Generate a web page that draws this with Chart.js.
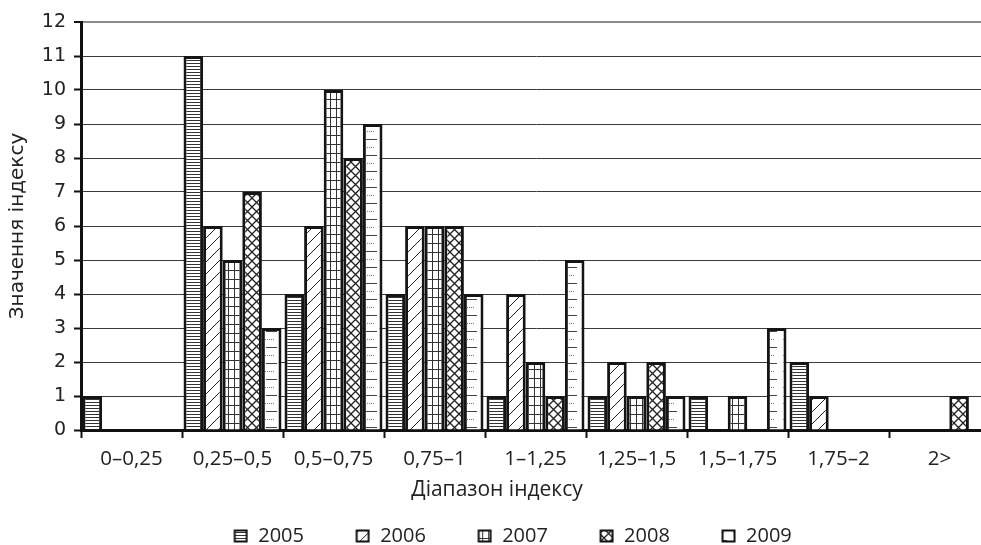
<!DOCTYPE html>
<html>
<head>
<meta charset="utf-8">
<script src="https://cdn.jsdelivr.net/npm/chart.js@4/dist/chart.umd.min.js"></script>
<style>
  html, body { margin: 0; padding: 0; background: #fff; overflow: hidden; }
  #wrap { width: 1010px; height: 545px; }
</style>
</head>
<body>
<div id="wrap"><canvas id="chart" width="1010" height="545"></canvas></div>
<script>
// ---- data ----
const categories = ['0–0,25', '0,25–0,5', '0,5–0,75', '0,75–1', '1–1,25', '1,25–1,5', '1,5–1,75', '1,75–2', '2>'];
const years = ['2005', '2006', '2007', '2008', '2009'];
const values2005 = [1, 11, 4, 4, 1, 1, 1, 2, 0];
const values2006 = [0, 6, 6, 6, 4, 2, 0, 1, 0];
const values2007 = [0, 5, 10, 6, 2, 1, 1, 0, 0];
const values2008 = [0, 7, 8, 6, 1, 2, 0, 0, 1];
const values2009 = [0, 3, 9, 4, 5, 1, 3, 0, 0];
const yMin = 0, yMax = 12, yStep = 1;
const xTitle = 'Діапазон індексу';
const yTitle = 'Значення індексу';

const FONT = '"Open Sans", "DejaVu Sans", sans-serif';
const FONT_WIDE = '"DejaVu Sans", sans-serif';
const INK = '#222';

// ---- hatch tiles (black & white print style) ----
function makeTile(w, h, draw) {
    const c = document.createElement('canvas');
    c.width = w; c.height = h;
    const g = c.getContext('2d');
    g.fillStyle = '#fff';
    g.fillRect(0, 0, w, h);
    draw(g, w, h);
    return c;
}

const tiles = [
    // 2005: dense horizontal lines
    makeTile(4, 3, (g, w) => { g.fillStyle = '#333'; g.fillRect(0, 0, w, 1); }),
    // 2006: sparse diagonal "/"
    makeTile(12, 12, (g, w, h) => {
        g.strokeStyle = '#222'; g.lineWidth = 1;
        g.beginPath();
        for (let k = -1; k <= 1; k++) {
            g.moveTo(k * w, h); g.lineTo(k * w + w, 0);
        }
        g.stroke();
    }),
    // 2007: small grid
    makeTile(6, 9, (g, w, h) => {
        g.fillStyle = '#333';
        g.fillRect(0, 0, 1, h);
        g.fillRect(0, 0, w, 1);
    }),
    // 2008: crossing zigzags
    makeTile(9, 9, (g, w, h) => {
        g.strokeStyle = '#222'; g.lineWidth = 1.3;
        g.beginPath();
        g.moveTo(0, 0); g.lineTo(w, h);
        g.moveTo(w, 0); g.lineTo(0, h);
        g.stroke();
    }),
    // 2009: sparse dashed lines
    makeTile(20, 16, (g) => {
        g.fillStyle = '#777';
        for (let x = 3; x < 15; x += 2) g.fillRect(x, 3, 1, 1);
        g.fillStyle = '#444';
        g.fillRect(6, 11, 11, 1);
    })
];

const ctx = document.getElementById('chart').getContext('2d');
const patterns = tiles.map(t => ctx.createPattern(t, 'repeat'));

// legend icons: small hatched box at the right end of a wider transparent canvas
const ICON_W = 46;
const legendIcons = tiles.map(t => {
    const c = document.createElement('canvas');
    c.width = ICON_W; c.height = 14;
    const g = c.getContext('2d');
    g.fillStyle = g.createPattern(t, 'repeat');
    g.fillRect(ICON_W - 14, 1, 13, 12);
    g.strokeStyle = '#111'; g.lineWidth = 2;
    g.strokeRect(ICON_W - 13.5, 1.5, 12, 11);
    return c;
});

const seriesValues = [values2005, values2006, values2007, values2008, values2009];

const datasets = years.map((y, i) => ({
    label: y,
    data: seriesValues[i],
    backgroundColor: patterns[i],
    borderColor: '#151515',
    borderWidth: 3,
    categoryPercentage: 0.97,
    barPercentage: 1.0
}));

new Chart(ctx, {
    type: 'bar',
    data: { labels: categories, datasets: datasets },
    options: {
        responsive: false,
        animation: false,
        devicePixelRatio: 1,
        layout: { padding: { left: 4, right: 20, top: 22, bottom: 0 } },
        plugins: {
            tooltip: { enabled: false },
            title: {
                display: true,
                text: xTitle,
                position: 'bottom',
                weight: 500,
                color: INK,
                font: { family: FONT, size: 21, weight: 'normal' },
                padding: { top: 0, bottom: 3.6 }
            },
            legend: {
                position: 'bottom',
                maxHeight: 39.2,
                labels: {
                    color: INK,
                    font: { family: FONT, size: 20 },
                    usePointStyle: true,
                    pointStyleWidth: ICON_W,
                    padding: 20.2,
                    generateLabels(chart) {
                        const items = Chart.defaults.plugins.legend.labels.generateLabels(chart);
                        items.forEach((it, i) => { it.pointStyle = legendIcons[i]; });
                        return items;
                    }
                }
            }
        },
        scales: {
            x: {
                afterFit(scale) { scale.height = 47; },
                grid: {
                    display: true,
                    drawOnChartArea: false,
                    offset: true,
                    tickLength: 8,
                    tickWidth: 2,
                    tickColor: '#111'
                },
                border: { display: true, color: '#111', width: 3 },
                ticks: {
                    color: INK,
                    padding: 9,
                    maxRotation: 0,
                    autoSkip: false,
                    font: { family: FONT, size: 20.5 }
                }
            },
            y: {
                min: yMin,
                max: yMax,
                afterFit(scale) { scale.width = 77; },
                grid: {
                    color: c => (c.tick && c.tick.value === yMax) ? '#8a8a8a' : '#3a3a3a',
                    lineWidth: c => (c.tick && c.tick.value === yMax) ? 2 : 1,
                    tickLength: 7,
                    tickWidth: 2,
                    tickColor: '#111'
                },
                border: { display: true, color: '#111', width: 3 },
                ticks: {
                    stepSize: yStep,
                    color: INK,
                    padding: 8,
                    font: { family: FONT_WIDE, size: 19 }
                },
                title: {
                    display: true,
                    text: yTitle,
                    color: INK,
                    font: { family: FONT_WIDE, size: 20 },
                    padding: { top: 2, bottom: 0 }
                }
            }
        }
    }
});
</script>
</body>
</html>
